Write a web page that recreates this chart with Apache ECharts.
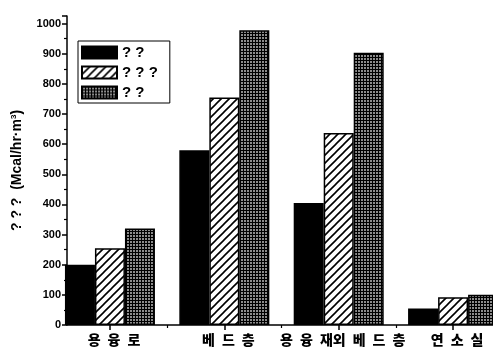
<!DOCTYPE html>
<html>
<head>
<meta charset="utf-8">
<script src="https://cdn.jsdelivr.net/npm/echarts@6/dist/echarts.min.js"></script>
<style>
  html, body { margin: 0; padding: 0; background: #fff; }
  #chart { width: 493px; height: 357px; }
</style>
</head>
<body>
<div id="chart"></div>
<script>
// Heat load per zone, three cases
const categories = ['용 융 로', '베 드 층', '용 융 재외 베 드 층', '연 소 실'];
const legendLabels = ['? ?', '? ? ?', '? ?'];
const seriesA = [200, 580, 405, 55];
const seriesB = [255, 755, 637, 92];
const seriesC = [320, 978, 903, 100];
const yTicks = [0, 100, 200, 300, 400, 500, 600, 700, 800, 900, 1000];

// Fill patterns
function hatchPattern() {
  const c = document.createElement('canvas');
  c.width = 8; c.height = 8;
  const g = c.getContext('2d');
  g.fillStyle = '#fff';
  g.fillRect(0, 0, 8, 8);
  g.strokeStyle = '#000';
  g.lineWidth = 1.6;
  g.beginPath();
  g.moveTo(-1, 9); g.lineTo(9, -1);
  g.moveTo(-1, 1); g.lineTo(1, -1);
  g.moveTo(7, 9); g.lineTo(9, 7);
  g.stroke();
  return c;
}
function gridPattern() {
  const c = document.createElement('canvas');
  c.width = 3; c.height = 3;
  const g = c.getContext('2d');
  g.fillStyle = '#000';
  g.fillRect(0, 0, 3, 3);
  g.fillStyle = '#8c8c8c';
  g.fillRect(1, 1, 2, 2);
  return c;
}

const fills = [
  '#000',
  { image: hatchPattern(), repeat: 'repeat' },
  { image: gridPattern(), repeat: 'repeat' }
];
const values = [seriesA, seriesB, seriesC];
const keys = ['a', 'b', 'c'];

const chart = echarts.init(document.getElementById('chart'), null, { renderer: 'canvas' });

const font = '"Liberation Sans", Arial, sans-serif';
const krFont = '"Noto Sans CJK KR", sans-serif';
const xMin = 0.6245, xMax = 4.349;
const spaced = s => s.replace(/ /g, '\u2002');

chart.setOption({
  animation: false,
  backgroundColor: '#fff',
  grid: { left: 67, right: 0, top: 16, bottom: 32, containLabel: false },
  legend: {
    data: keys,
    orient: 'vertical',
    left: 78, top: 41,
    itemWidth: 35, itemHeight: 12, itemGap: 5,
    padding: [4, 12, 3, 3],
    borderColor: '#000', borderWidth: 1,
    icon: 'rect',
    formatter: name => legendLabels[keys.indexOf(name)],
    textStyle: { fontFamily: font, fontWeight: 'bold', fontSize: 15, color: '#000' }
  },
  xAxis: [{
    type: 'value', min: xMin, max: xMax,
    axisLine: { lineStyle: { color: '#000', width: 1.5 } },
    splitLine: { show: false },
    axisTick: { show: true, length: 5, customValues: [1, 2, 3, 4], lineStyle: { color: '#000', width: 1.5 } },
    axisLabel: {
      customValues: [1, 2, 3, 4],
      formatter: v => spaced(categories[Math.round(v) - 1] || ''),
      fontFamily: krFont, fontWeight: 900, fontSize: 14, color: '#000', margin: 8,
      padding: [0, 0, 0, 8]
    }
  }, {
    type: 'value', min: xMin, max: xMax, position: 'bottom',
    axisLine: { show: false },
    splitLine: { show: false },
    axisTick: { show: true, length: 3, customValues: [1.5, 2.5, 3.5], lineStyle: { color: '#000', width: 1.2 } },
    axisLabel: { show: false }
  }],
  yAxis: {
    type: 'value', min: 0, max: 1025, interval: 100,
    name: '{a|? ? ?  (Mcal/hr·m}{s|3}{a|)}',
    nameLocation: 'middle', nameRotate: 90, nameGap: 42,
    nameTextStyle: {
      rich: {
        a: { fontFamily: font, fontWeight: 'bold', fontSize: 14, color: '#000' },
        s: { fontFamily: font, fontWeight: 'bold', fontSize: 8, color: '#000', verticalAlign: 'top', padding: [0, 0, 7, 0] }
      }
    },
    axisLine: { show: true, lineStyle: { color: '#000', width: 1.5 } },
    splitLine: { show: false },
    axisTick: { show: true, inside: false, length: 5, lineStyle: { color: '#000', width: 1.5 } },
    minorTick: { show: true, splitNumber: 2, length: 3, lineStyle: { color: '#000', width: 1.2 } },
    axisLabel: {
      showMaxLabel: false,
      formatter: v => (yTicks.indexOf(v) >= 0 ? String(v) : ''),
      fontFamily: font, fontWeight: 'bold', fontSize: 11, color: '#000', margin: 6
    }
  },
  series: keys.map((k, i) => ({
    name: k,
    type: 'bar',
    xAxisIndex: 0,
    barWidth: 30,
    barGap: '0%',
    data: values[i].map((v, j) => [j + 1, v]),
    itemStyle: { color: fills[i], borderColor: '#000', borderWidth: 1.5 }
  }))
});
</script>
</body>
</html>
